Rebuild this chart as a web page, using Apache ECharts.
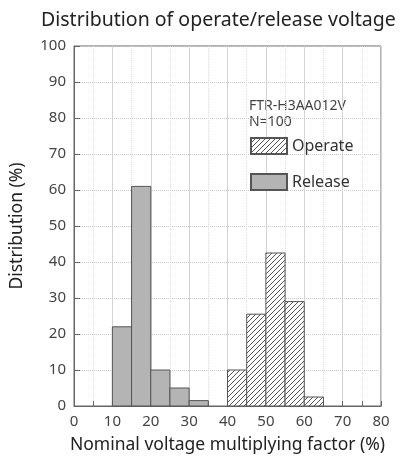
<!DOCTYPE html>
<html>
<head>
<meta charset="utf-8">
<script src="https://cdn.jsdelivr.net/npm/echarts@6/dist/echarts.min.js"></script>
<style>
html,body{margin:0;padding:0;background:#fff;}
#chart{width:404px;height:461px;}
</style>
</head>
<body>
<div id="chart"></div>
<script>
// bins: [start, end] of nominal voltage multiplying factor (%)
const releaseBins = [[10,15],[15,20],[20,25],[25,30],[30,35]];
const releaseValues = [22, 61, 10, 5, 1.5];
const operateBins = [[40,45],[45,50],[50,55],[55,60],[60,65]];
const operateValues = [10, 25.5, 42.5, 29, 2.5];
const xTicks = [0,10,20,30,40,50,60,70,80];
const yTicks = [0,10,20,30,40,50,60,70,80,90,100];

function hatch() {
  const c = document.createElement('canvas');
  c.width = 5; c.height = 5;
  const g = c.getContext('2d');
  g.fillStyle = '#fff'; g.fillRect(0,0,5,5);
  g.strokeStyle = '#555'; g.lineWidth = 1;
  g.beginPath();
  g.moveTo(-1,6); g.lineTo(6,-1);
  g.moveTo(-6,6); g.lineTo(6,-6);
  g.moveTo(-1,11); g.lineTo(11,-1);
  g.stroke();
  return c;
}
const hatchFill = {image: hatch(), repeat: 'repeat'};
const releaseFill = '#b4b4b4';

function toData(bins, vals){ return bins.map((b,i)=>[b[0], b[1], vals[i]]); }
function renderBar(params, api){
  const s = api.coord([api.value(0), 0]);
  const e = api.coord([api.value(1), api.value(2)]);
  return {
    type: 'rect',
    shape: {x: s[0], y: e[1], width: e[0]-s[0], height: s[1]-e[1]},
    style: api.style()
  };
}

const chart = echarts.init(document.getElementById('chart'), null, {renderer:'canvas'});
const font = '"Noto Sans", sans-serif';
chart.setOption({
  backgroundColor: '#fff',
  animation: false,
  title: {
    text: 'Distribution of operate/release voltage',
    left: 36, top: 5,
    textStyle: {fontFamily: font, fontSize: 19.5, fontWeight: 'normal', color: '#222'}
  },
  grid: {left: 72, top: 46, width: 309, height: 360, show: true, borderColor: '#666', borderWidth: 1, backgroundColor: 'transparent'},
  legend: {
    orient: 'vertical', left: 245, top: 132, itemWidth: 36, itemHeight: 16, itemGap: 18,
    icon: 'rect',
    textStyle: {fontFamily: font, fontSize: 16, color: '#333'},
    data: ['Operate', 'Release']
  },
  graphic: [
    {type: 'text', left: 249, top: 98, style: {text: 'FTR-H3AA012V\nN=100', font: '14px "Noto Sans"', fill: '#444', lineHeight: 16}}
  ],
  xAxis: {
    type: 'value', min: 0, max: 80, interval: 10,
    name: 'Nominal voltage multiplying factor (%)', nameLocation: 'middle', nameGap: 30,
    nameTextStyle: {fontFamily: font, fontSize: 17.5, color: '#222'},
    axisLine: {show: true, lineStyle: {color: '#666'}},
    axisTick: {show: true, inside: true, length: 5, lineStyle: {color: '#666'}},
    minorTick: {show: true, splitNumber: 2, length: 5, lineStyle: {color: '#666'}},
    axisLabel: {fontFamily: font, fontSize: 15, color: '#444', margin: 8, customValues: xTicks},
    splitLine: {show: true, lineStyle: {color: '#d4d4d4', width: 1}},
    minorSplitLine: {show: true, lineStyle: {color: '#dcdcdc', type: 'dotted'}}
  },
  yAxis: {
    type: 'value', min: 0, max: 100, interval: 10,
    name: 'Distribution (%)', nameLocation: 'middle', nameGap: 48, nameRotate: 90,
    nameTextStyle: {fontFamily: font, fontSize: 17.5, color: '#222'},
    axisLine: {show: true, lineStyle: {color: '#666'}},
    axisTick: {show: true, inside: true, length: 6, lineStyle: {color: '#666'}},
    axisLabel: {fontFamily: font, fontSize: 15, color: '#444', margin: 8, customValues: yTicks},
    splitLine: {show: true, lineStyle: {color: '#c8c8c8', type: 'dotted'}}
  },
  series: [
    {
      name: 'Operate', type: 'custom', renderItem: renderBar,
      encode: {x: [0,1], y: 2},
      itemStyle: {color: hatchFill, borderColor: '#555', borderWidth: 1},
      data: toData(operateBins, operateValues)
    },
    {
      name: 'Release', type: 'custom', renderItem: renderBar,
      encode: {x: [0,1], y: 2},
      itemStyle: {color: releaseFill, borderColor: '#555', borderWidth: 1},
      data: toData(releaseBins, releaseValues)
    }
  ]
});
</script>
</body>
</html>
